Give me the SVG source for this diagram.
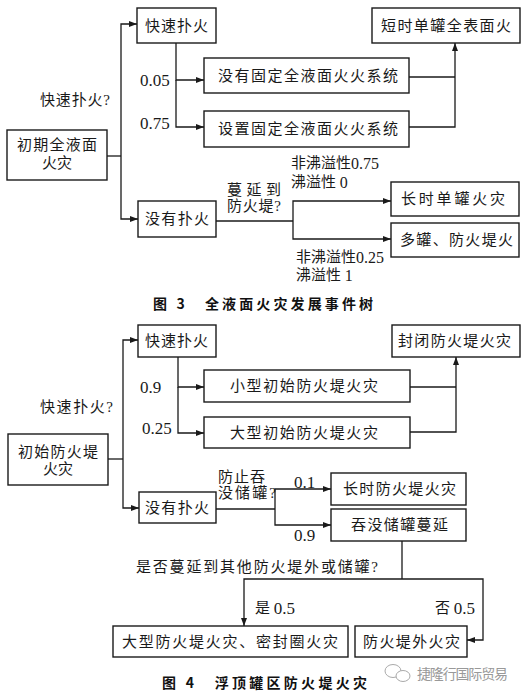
<svg xmlns="http://www.w3.org/2000/svg" width="526" height="695" viewBox="0 0 526 695">
<defs>
<marker id="ah" markerUnits="userSpaceOnUse" markerWidth="9" markerHeight="7" refX="8" refY="3" orient="auto"><path d="M0,0 L8,3 L0,6 z" fill="#1a1a1a"/></marker>
<style>
.b{fill:#fff;stroke:#1a1a1a;stroke-width:1.4}
.t{font-family:"Liberation Serif","Noto Sans CJK SC",serif;font-size:15px;fill:#1a1a1a;dominant-baseline:central}
.n{font-family:"Liberation Serif",serif;font-size:17px;fill:#1a1a1a;dominant-baseline:central}
.s{font-family:"Liberation Serif",serif;font-size:16px}
.m{text-anchor:middle}
.c path{fill:none;stroke:#1a1a1a;stroke-width:1.3}
.h{font-family:"Noto Sans CJK SC","Liberation Sans",sans-serif;font-size:14px;font-weight:bold;fill:#111;dominant-baseline:central}
.w{font-family:"Noto Sans CJK SC",sans-serif;font-size:14px;fill:#999;dominant-baseline:central}
</style>
</defs>
<rect width="526" height="695" fill="#fff"/>

<!-- Figure 3 -->
<g id="n3_init"><rect class="b" x="7" y="130" width="100" height="50"/><text class="t m" x="57" y="145" textLength="80">初期全液面</text><text class="t m" x="57" y="163">火灾</text></g>
<g id="n3_fast"><rect class="b" x="137" y="8" width="79" height="35"/><text class="t" x="145" y="25.5" textLength="63">快速扑火</text></g>
<g id="n3_nofix"><rect class="b" x="204" y="58" width="205" height="35"/><text class="t" x="218" y="75.5" textLength="180">没有固定全液面火火系统</text></g>
<g id="n3_fix"><rect class="b" x="204" y="111" width="205" height="36"/><text class="t" x="218" y="129" textLength="180">设置固定全液面火火系统</text></g>
<g id="n3_short"><rect class="b" x="372" y="8" width="148" height="35"/><text class="t" x="381" y="25.5" textLength="130">短时单罐全表面火</text></g>
<g id="n3_notout"><rect class="b" x="138" y="201" width="78" height="36"/><text class="t" x="145" y="219" textLength="64">没有扑火</text></g>
<g id="n3_long"><rect class="b" x="391" y="182" width="128" height="34"/><text class="t" x="401" y="199" textLength="104">长时单罐火灾</text></g>
<g id="n3_multi"><rect class="b" x="391" y="223" width="128" height="34"/><text class="t" x="400" y="240" textLength="113">多罐、防火堤火</text></g>

<g class="c" id="c3">
<path d="M107,156 H121"/>
<path d="M121,156 V24 H137" marker-end="url(#ah)"/>
<path d="M121,156 V219 H138" marker-end="url(#ah)"/>
<path d="M176,43 V80 H204" marker-end="url(#ah)"/>
<path d="M176,80 V127 H204" marker-end="url(#ah)"/>
<path d="M409,77 H455"/>
<path d="M409,127 H455 V43" marker-end="url(#ah)"/>
<path d="M216,221 H293"/>
<path d="M293,221 V201 H391" marker-end="url(#ah)"/>
<path d="M293,221 V239 H391" marker-end="url(#ah)"/>
</g>

<text class="t" x="40" y="100" textLength="70">快速扑火?</text>
<text class="n" x="140" y="80">0.05</text>
<text class="n" x="140" y="123">0.75</text>
<text class="t" x="227" y="190" textLength="54">蔓延到</text>
<text class="t" x="227" y="206" textLength="54">防火堤?</text>
<text class="t" x="291" y="163">非沸溢性<tspan class="s">0.75</tspan></text>
<text class="t" x="291" y="182">沸溢性 <tspan class="s">0</tspan></text>
<text class="t" x="296" y="257">非沸溢性<tspan class="s">0.25</tspan></text>
<text class="t" x="296" y="275">沸溢性 <tspan class="s">1</tspan></text>
<text class="h" x="153" y="303" textLength="220">图 3　全液面火灾发展事件树</text>

<!-- Figure 4 -->
<g id="n4_init"><rect class="b" x="8" y="434" width="100" height="51"/><text class="t m" x="58" y="452" textLength="80">初始防火堤</text><text class="t m" x="58" y="469">火灾</text></g>
<g id="n4_fast"><rect class="b" x="138" y="325" width="78" height="32"/><text class="t" x="145" y="341" textLength="63">快速扑火</text></g>
<g id="n4_small"><rect class="b" x="204" y="370" width="206" height="32"/><text class="t" x="230" y="386" textLength="148">小型初始防火堤火灾</text></g>
<g id="n4_large"><rect class="b" x="204" y="417" width="206" height="31"/><text class="t" x="230" y="432.5" textLength="148">大型初始防火堤火灾</text></g>
<g id="n4_closed"><rect class="b" x="392" y="325" width="128" height="32"/><text class="t" x="398" y="341" textLength="113">封闭防火堤火灾</text></g>
<g id="n4_notout"><rect class="b" x="139" y="492" width="77" height="31"/><text class="t" x="145" y="507.5" textLength="64">没有扑火</text></g>
<g id="n4_long"><rect class="b" x="331" y="473" width="135" height="32"/><text class="t" x="343" y="489" textLength="113">长时防火堤火灾</text></g>
<g id="n4_engulf"><rect class="b" x="331" y="509" width="135" height="32"/><text class="t" x="351" y="525" textLength="97">吞没储罐蔓延</text></g>
<g id="n4_bigdike"><rect class="b" x="113" y="626" width="235" height="31"/><text class="t" x="122" y="641.5" textLength="216">大型防火堤火灾、密封圈火灾</text></g>
<g id="n4_outside"><rect class="b" x="355" y="626" width="112" height="31"/><text class="t" x="363" y="641.5" textLength="97">防火堤外火灾</text></g>

<g class="c" id="c4">
<path d="M108,459 H123"/>
<path d="M123,459 V340 H138" marker-end="url(#ah)"/>
<path d="M123,459 V508 H139" marker-end="url(#ah)"/>
<path d="M178,357 V387 H204" marker-end="url(#ah)"/>
<path d="M178,387 V433 H204" marker-end="url(#ah)"/>
<path d="M410,387 H456"/>
<path d="M410,432 H456 V357" marker-end="url(#ah)"/>
<path d="M216,509 H275"/>
<path d="M275,509 V489 H331" marker-end="url(#ah)"/>
<path d="M275,509 V525 H331" marker-end="url(#ah)"/>
<path d="M402,541 V579"/>
<path d="M402,579 H244 V626" marker-end="url(#ah)"/>
<path d="M402,579 H483 V640 H467" marker-end="url(#ah)"/>
</g>

<text class="t" x="40" y="407" textLength="73">快速扑火?</text>
<text class="n" x="140" y="387">0.9</text>
<text class="n" x="142" y="428">0.25</text>
<text class="t" x="218" y="477" textLength="47">防止吞</text>
<text class="t" x="218" y="493" textLength="58">没储罐?</text>
<text class="n" x="294" y="482">0.1</text>
<text class="n" x="294" y="535">0.9</text>
<text class="t" x="136" y="567" textLength="242">是否蔓延到其他防火堤外或储罐?</text>
<text class="t" x="255" y="608">是 <tspan class="n">0.5</tspan></text>
<text class="t" x="435" y="608">否 <tspan class="n">0.5</tspan></text>
<text class="h" x="162" y="682" textLength="205">图 4　浮顶罐区防火堤火灾</text>

<g id="watermark" fill="none" stroke="#aaa" stroke-width="1">
<ellipse cx="393" cy="671" rx="8" ry="6.5"/>
<ellipse cx="403" cy="676" rx="7" ry="5.5" fill="#fff"/>
</g>
<text class="w" x="417" y="673" textLength="91">捷隆行国际贸易</text>
</svg>
